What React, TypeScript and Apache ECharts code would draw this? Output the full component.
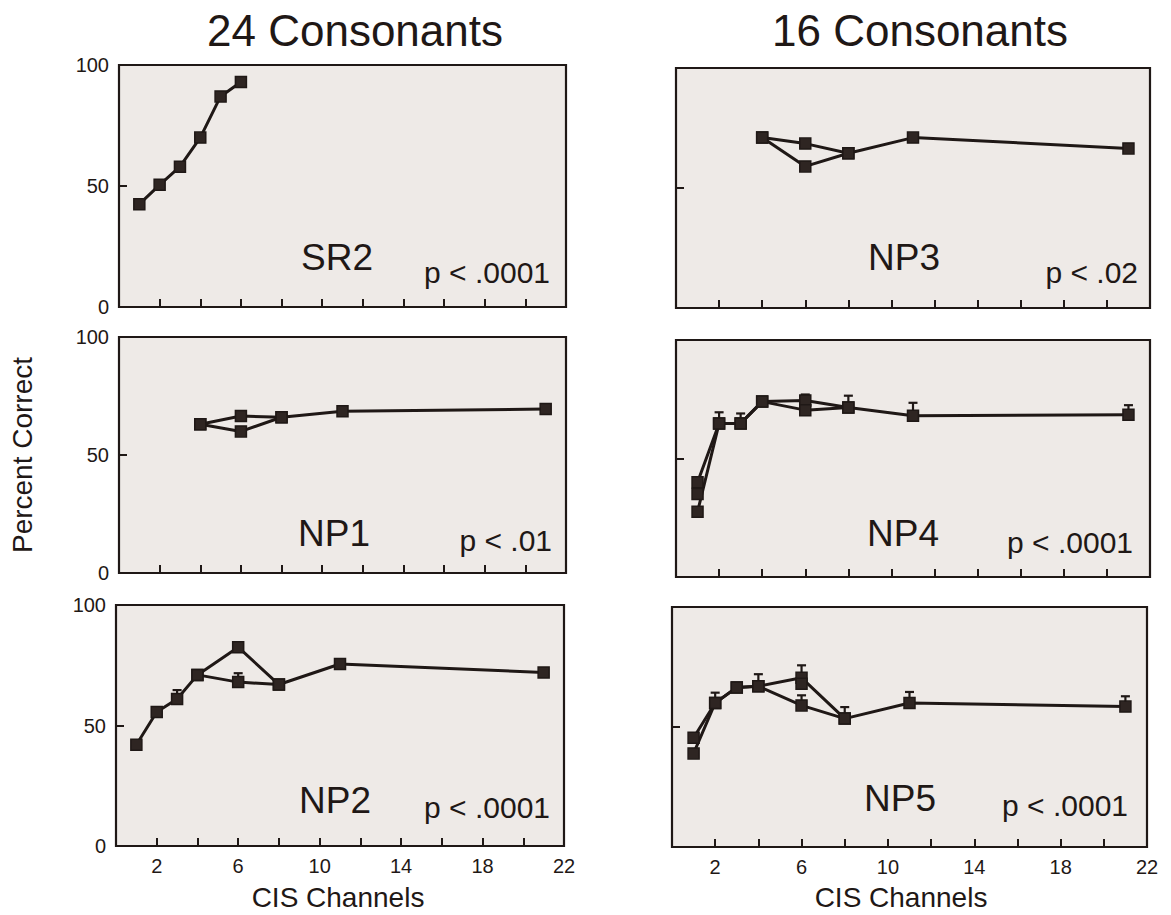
import React, { useEffect, useRef } from "react";
import * as echarts from "echarts";

// ---------- data ----------
const xTickLabels = [2, 6, 10, 14, 18, 22];
const yTickValues = [0, 50, 100];
const columnTitles = ["24 Consonants", "16 Consonants"];
const yAxisTitle = "Percent Correct";
const xAxisTitle = "CIS Channels";

// [channels, percent correct]
const sr2Line = [[1, 42.5], [2, 50.5], [3, 58], [4, 70], [5, 87], [6, 93]];

const np3LineA = [[4, 71], [6, 68.5], [8, 64.5], [11, 71], [21, 66.5]];
const np3LineB = [[4, 71], [6, 59], [8, 64.5]];

const np1LineA = [[4, 63], [6, 66.5], [8, 66], [11, 68.5], [21, 69.5]];
const np1LineB = [[4, 63], [6, 60], [8, 66]];

const np4LineA = [[1, 40], [2, 64.8], [3, 64.8], [4, 74], [6, 74.5], [8, 71.5], [11, 68], [21, 68.5]];
const np4LineB = [[1, 27.5], [2, 64.8], [3, 64.8], [4, 74], [6, 70.4], [8, 71.5]];
const np4Extra = [[1, 35]];
// [channels, mean, upper error]
const np4Errors = [[2, 64.8, 69.5], [3, 64.8, 69], [6, 74.5, 77], [8, 71.5, 76.5], [11, 68, 73.5], [21, 68.5, 72.5]];

const np2LineA = [[1, 42], [2, 55.6], [3, 61], [4, 71], [6, 82.5], [8, 67], [11, 75.5], [21, 72]];
const np2LineB = [[4, 71], [6, 68], [8, 67]];
const np2Errors = [[3, 61, 64.7], [6, 68, 71.7]];

const np5LineA = [[1, 45.5], [2, 60], [3, 66.5], [4, 67], [6, 70.5], [8, 53.5], [11, 60], [21, 58.5]];
const np5LineB = [[1, 39], [2, 60], [3, 66.5], [4, 67], [6, 59], [8, 53.5]];
const np5Extra = [[6, 68]];
const np5Errors = [[2, 60, 64.3], [4, 67, 72], [6, 70.5, 75.7], [6, 59, 63.2], [8, 53.5, 58.3], [11, 60, 64.6], [21, 58.5, 62.8]];

const panelNames = ["SR2", "NP3", "NP1", "NP4", "NP2", "NP5"];
const pValues = ["p < .0001", "p < .02", "p < .01", "p < .0001", "p < .0001", "p < .0001"];

const panels = [
  { lines: [sr2Line], extra: [], errors: [] },
  { lines: [np3LineA, np3LineB], extra: [], errors: [] },
  { lines: [np1LineA, np1LineB], extra: [], errors: [] },
  { lines: [np4LineA, np4LineB], extra: np4Extra, errors: np4Errors },
  { lines: [np2LineA, np2LineB], extra: [], errors: np2Errors },
  { lines: [np5LineA, np5LineB], extra: np5Extra, errors: np5Errors },
];

// ---------- layout ----------
const INK = "#1f1816";
const BG = "#eeeae7";
const FONT = '"Liberation Sans", Arial, Helvetica, sans-serif';

const grids = [
  { left: 119, top: 65, width: 447, height: 242 },
  { left: 676, top: 68, width: 474, height: 240 },
  { left: 119, top: 337, width: 447, height: 236 },
  { left: 676, top: 340, width: 474, height: 237 },
  { left: 116, top: 605, width: 448, height: 241 },
  { left: 672, top: 607, width: 475, height: 240 },
];

const labelPos = [
  { nx: 337, ny: 257, px: 550, py: 272 },
  { nx: 904, ny: 257, px: 1138, py: 272 },
  { nx: 334, ny: 533, px: 552, py: 540 },
  { nx: 903, ny: 533, px: 1133, py: 542 },
  { nx: 335, ny: 800, px: 550, py: 807 },
  { nx: 900, ny: 798, px: 1128, py: 805 },
];

const markerStyle = { color: "#2e2522", borderColor: INK, borderWidth: 1.5, opacity: 1 };

function buildOption() {
  const series: any[] = [];
  panels.forEach((p, i) => {
    if (p.errors.length) {
      series.push({
        type: "custom",
        xAxisIndex: i,
        yAxisIndex: i,
        silent: true,
        z: 1,
        data: p.errors,
        renderItem: (params: any, api: any) => {
          const b = api.coord([api.value(0), api.value(1)]);
          const t = api.coord([api.value(0), api.value(2)]);
          const st = { stroke: INK, lineWidth: 2.2 };
          return {
            type: "group",
            children: [
              { type: "line", shape: { x1: b[0], y1: b[1], x2: t[0], y2: t[1] }, style: st },
              { type: "line", shape: { x1: t[0] - 4.5, y1: t[1], x2: t[0] + 4.5, y2: t[1] }, style: st },
            ],
          };
        },
      });
    }
    p.lines.forEach((d) => {
      series.push({
        type: "line",
        xAxisIndex: i,
        yAxisIndex: i,
        data: d,
        z: 2,
        symbol: "rect",
        symbolSize: 11,
        showAllSymbol: true,
        lineStyle: { color: INK, width: 3 },
        itemStyle: markerStyle,
        silent: true,
      });
    });
    if (p.extra.length) {
      series.push({
        type: "scatter",
        xAxisIndex: i,
        yAxisIndex: i,
        data: p.extra,
        z: 3,
        symbol: "rect",
        symbolSize: 11,
        itemStyle: markerStyle,
        silent: true,
      });
    }
  });

  const graphic: any[] = [];
  const txt = (x: number, y: number, text: string, fontSize: number, align = "center", rotation = 0) => ({
    type: "text",
    x,
    y,
    rotation,
    silent: true,
    style: { text, fontSize, fontFamily: FONT, fill: INK, align, verticalAlign: "middle" },
  });
  graphic.push(txt(355, 30, columnTitles[0], 44));
  graphic.push(txt(920, 30, columnTitles[1], 44));
  graphic.push(txt(22, 455, yAxisTitle, 28, "center", Math.PI / 2));
  graphic.push(txt(338, 897, xAxisTitle, 28));
  graphic.push(txt(901, 897, xAxisTitle, 28));
  labelPos.forEach((lp, i) => {
    graphic.push(txt(lp.nx, lp.ny, panelNames[i], 37));
    graphic.push(txt(lp.px, lp.py, pValues[i], 30, "right"));
  });

  return {
    animation: false,
    backgroundColor: "#ffffff",
    textStyle: { fontFamily: FONT },
    grid: grids.map((g) => ({ ...g, show: true, backgroundColor: BG, borderColor: INK, borderWidth: 2.2, containLabel: false })),
    xAxis: grids.map((_, i) => ({
      type: "value",
      gridIndex: i,
      min: 0,
      max: 22,
      interval: 2,
      axisLine: { show: false },
      axisTick: { show: true, inside: true, length: 8, lineStyle: { color: INK, width: 2 } },
      splitLine: { show: false },
      axisLabel: {
        show: i >= 4,
        formatter: (v: number) => (xTickLabels.includes(v) ? String(v) : ""),
        fontSize: 20,
        color: INK,
        fontFamily: FONT,
        margin: 10,
      },
    })),
    yAxis: grids.map((_, i) => ({
      type: "value",
      gridIndex: i,
      min: 0,
      max: 100,
      interval: 50,
      axisLine: { show: false },
      axisTick: { show: true, inside: true, length: 8, lineStyle: { color: INK, width: 2 } },
      splitLine: { show: false },
      axisLabel: {
        show: i % 2 === 0,
        formatter: (v: number) => (yTickValues.includes(v) ? String(v) : ""),
        fontSize: 20,
        color: INK,
        fontFamily: FONT,
        margin: 10,
      },
    })),
    graphic,
    series,
  };
}

export default function App() {
  const ref = useRef<HTMLDivElement>(null);
  useEffect(() => {
    if (!ref.current) return;
    const chart = echarts.init(ref.current, undefined, { renderer: "svg" });
    chart.setOption(buildOption() as any);
    return () => chart.dispose();
  }, []);
  return (
    <div
      ref={ref}
      style={{ position: "fixed", left: 0, top: 0, width: 1171, height: 915, background: "#fff" }}
    />
  );
}
